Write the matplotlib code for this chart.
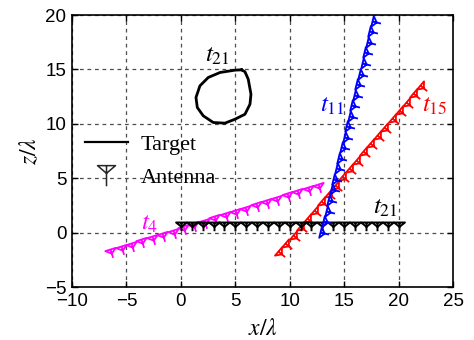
import numpy as np
import matplotlib.pyplot as plt
from matplotlib.path import Path
from matplotlib.markers import MarkerStyle
from matplotlib.transforms import Affine2D
from matplotlib.lines import Line2D

plt.rcParams['mathtext.fontset'] = 'stix'
plt.rcParams['font.family'] = 'Liberation Sans'

# target outline (x/lambda, z/lambda)
target_x = [5.58, 4.97, 3.61, 2.52, 1.75, 1.39, 1.51, 2.06, 2.98, 4.05,
            4.97, 5.89, 6.35, 6.44, 6.19, 5.89, 5.58]
target_z = [14.96, 14.93, 14.72, 14.26, 13.49, 12.42, 11.5, 10.73, 10.12, 10.06,
            10.42, 10.88, 11.8, 12.72, 14.1, 14.78, 14.96]

# linear arrays: first and last element, 21 uniformly spaced elements
n_elem = 21
array_names = ['t4', 't15', 't21', 't11']
array_first = [(-6.49, -1.54), (8.96, -1.71), (0.0, 1.0), (12.82, 0.09)]
array_last = [(12.60, 4.50), (21.95, 13.57), (20.0, 1.0), (17.55, 19.46)]
array_colors = ['#ff00ff', '#ff0000', 'black', '#0000ff']

# labels
label_text = [r'$t_{21}$', r'$t_{11}$', r'$t_{15}$', r'$t_{21}$', r'$t_{4}$']
label_pos = [(2.2, 15.7), (12.78, 11.1), (22.12, 11.1), (17.68, 1.75), (-3.7, 0.3)]
label_colors = ['black', '#0000ff', '#ff0000', 'black', '#ff00ff']

xticks = [-10, -5, 0, 5, 10, 15, 20, 25]
zticks = [-5, 0, 5, 10, 15, 20]

# antenna symbol: open down-triangle with a stem, anchored at top centre
codes = [Path.MOVETO, Path.LINETO, Path.LINETO, Path.CLOSEPOLY, Path.MOVETO, Path.LINETO]
ant_path = Path([(-0.5, 0), (0.5, 0), (0, -0.4), (-0.5, 0), (0, 0), (0, -0.8)], codes)
msize = 7.84 * 2 * 0.8
# legend version, centred on the symbol
leg_path = Path([(-0.5, 0.55), (0.5, 0.55), (0, 0.12), (-0.5, 0.55), (0, 0.55), (0, -0.6)], codes)


def antenna_marker(angle, path=ant_path):
    return MarkerStyle(path, fillstyle='none', transform=Affine2D().rotate_deg(angle))


fig = plt.figure(figsize=(4.74, 3.4), dpi=100)
ax = fig.add_axes([72 / 474, 53 / 340, 381 / 474, 272 / 340])

ax.plot(target_x, target_z, color='black', lw=2, zorder=3)

for first, last, c in zip(array_first, array_last, array_colors):
    ang = np.degrees(np.arctan2(last[1] - first[1], last[0] - first[0]))
    xs = np.linspace(first[0], last[0], n_elem)
    zs = np.linspace(first[1], last[1], n_elem)
    ax.plot(xs, zs, linestyle='none', marker=antenna_marker(ang), markersize=msize,
            markeredgecolor=c, markeredgewidth=1.4 if c == 'black' else 1.3, zorder=3)

for txt, (x, z), c in zip(label_text, label_pos, label_colors):
    ax.text(x, z, txt, color=c, fontsize=18, ha='left', va='baseline')

ax.set_xlim(-10, 25)
ax.set_ylim(-5, 20)
ax.set_xticks(xticks)
ax.set_yticks(zticks)
ax.set_xticklabels(['\u221210', '\u22125'] + [str(v) for v in xticks[2:]])
ax.set_yticklabels(['\u22125'] + [str(v) for v in zticks[1:]])
ax.tick_params(direction='in', length=4, width=1, top=True, right=True,
               labelsize=13.5, pad=4)
for s in ax.spines.values():
    s.set_linewidth(1.2)
ax.grid(True, color='0.3', linestyle=(0, (3, 3)), lw=0.9)

ax.set_xlabel(r'$x/\lambda$', fontsize=17, labelpad=6)
ax.set_ylabel(r'$z/\lambda$', fontsize=17, labelpad=3)

handles = [Line2D([], [], color='black', lw=1.6),
           Line2D([], [], linestyle='none', marker=antenna_marker(0, leg_path), markersize=15.5,
                  markeredgecolor='0.15', markeredgewidth=1.1)]
ax.legend(handles, ['Target', 'Antenna'], loc='upper left', bbox_to_anchor=(0.035, 0.56),
          frameon=False, borderpad=0, borderaxespad=0, handlelength=1.9, handletextpad=0.6,
          labelspacing=0.55, prop={'family': 'Liberation Serif', 'size': 16})

fig.savefig('out.png', dpi=100)
